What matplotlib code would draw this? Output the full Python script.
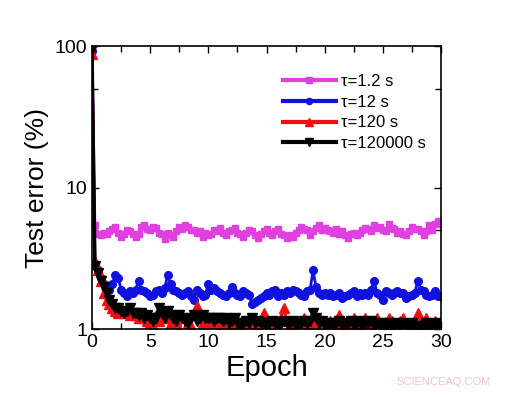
import numpy as np
import matplotlib
matplotlib.use("Agg")
import matplotlib.pyplot as plt
from matplotlib.ticker import FixedLocator, NullFormatter

plt.rcParams['font.family'] = ['Liberation Sans', 'DejaVu Sans']

epochs = [i * 0.25 for i in range(121)]

tau_1p2 = [95,
    5.4, 4.7, 4.6, 4.8, 4.7, 4.9, 5.1, 5.3, 4.8, 4.5, 4.7, 5.0, 4.9, 4.7, 4.5, 4.7, 5.3, 5.4, 5.1, 5.0,
    5.3, 5.2, 4.8, 4.7, 4.3, 4.8, 4.6, 4.5, 4.9, 5.3, 5.1, 5.4, 5.3, 5.0, 5.0, 4.8, 4.9, 4.5, 4.8, 4.6,
    4.7, 5.0, 4.9, 5.2, 4.8, 4.6, 4.9, 5.0, 5.2, 4.8, 4.7, 4.5, 4.8, 5.0, 4.9, 4.6, 4.4, 4.7, 4.9, 5.1,
    4.8, 4.6, 4.9, 5.1, 4.7, 4.6, 4.4, 4.6, 4.5, 4.8, 5.0, 5.3, 5.1, 5.0, 4.6, 4.9, 5.2, 5.4, 5.0, 5.2,
    5.0, 4.9, 4.8, 5.1, 4.7, 4.9, 4.6, 4.4, 4.7, 4.8, 4.6, 4.8, 5.0, 5.2, 5.1, 4.9, 5.4, 5.2, 5.3, 5.0,
    4.9, 5.5, 5.2, 5.1, 4.8, 4.9, 4.7, 4.6, 4.9, 5.3, 5.1, 5.1, 4.9, 4.6, 4.9, 5.4, 5.0, 5.5, 5.8, 5.5]

tau_12 = [92,
    2.8, 2.6, 2.3, 2.1, 2.0, 1.9, 2.1, 2.4, 2.3, 1.9, 1.8, 1.7, 1.85, 1.8, 1.9, 2.2, 1.9, 1.85, 1.8, 1.7,
    1.75, 1.85, 1.9, 1.8, 1.95, 2.4, 2.1, 1.9, 1.85, 1.8, 1.75, 1.8, 1.85, 1.7, 1.6, 1.9, 1.8, 1.7, 1.75, 2.1,
    1.9, 1.95, 1.85, 1.8, 1.75, 1.7, 1.8, 2.0, 1.8, 1.75, 1.7, 1.85, 1.8, 1.75, 1.5, 1.55, 1.6, 1.65, 1.7, 1.8,
    1.75, 1.85, 1.9, 1.7, 1.8, 1.75, 1.85, 1.8, 1.9, 1.85, 1.8, 1.75, 1.7, 1.85, 1.9, 2.6, 2.0, 1.8, 1.75, 1.8,
    1.75, 1.8, 1.7, 1.75, 1.8, 1.65, 1.7, 1.75, 1.8, 1.85, 1.7, 1.8, 1.75, 1.8, 1.75, 1.9, 2.2, 1.8, 1.75, 1.6,
    1.85, 1.8, 1.75, 1.8, 1.85, 1.8, 1.8, 1.65, 1.7, 1.75, 1.8, 2.2, 1.9, 1.85, 1.75, 1.7, 1.75, 1.85, 1.7, 1.7]

tau_120 = [88,
    3.0, 2.6, 2.2, 1.8, 1.6, 1.5, 1.4, 1.35, 1.3, 1.4, 1.3, 1.35, 1.25, 1.3, 1.25, 1.2, 1.3, 1.2, 1.15, 1.1,
    1.05, 1.25, 1.15, 1.2, 1.3, 1.2, 1.1, 1.2, 1.15, 1.0, 1.25, 1.2, 1.1, 1.05, 1.3, 1.45, 1.2, 1.1, 1.05, 1.15,
    1.1, 1.2, 1.15, 1.05, 1.1, 1.2, 1.1, 1.05, 1.0, 1.15, 1.1, 1.05, 1.1, 1.2, 1.1, 1.0, 1.05, 1.15, 1.3, 1.1,
    1.05, 1.1, 1.05, 1.15, 1.2, 1.4, 1.15, 1.05, 1.1, 1.0, 1.1, 1.15, 1.2, 1.05, 1.1, 1.15, 1.05, 1.2, 1.1, 1.05,
    1.1, 1.15, 1.05, 1.1, 1.25, 1.1, 1.0, 1.05, 1.1, 1.2, 1.15, 1.05, 1.1, 1.2, 1.1, 1.05, 1.15, 1.2, 1.1, 1.05,
    1.1, 1.2, 1.15, 1.05, 1.1, 1.15, 1.2, 1.1, 1.05, 1.1, 1.15, 1.3, 1.1, 1.05, 1.2, 1.1, 1.05, 1.15, 1.1, 1.05]

tau_120000 = [95,
    2.8, 2.5, 2.2, 2.0, 1.8, 1.6, 1.5, 1.4, 1.4, 1.35, 1.3, 1.35, 1.4, 1.3, 1.3, 1.25, 1.3, 1.2, 1.25, 1.2,
    1.15, 1.2, 1.4, 1.3, 1.2, 1.35, 1.25, 1.2, 1.15, 1.25, 1.2, 1.15, 1.1, 1.2, 1.25, 1.15, 1.2, 1.25, 1.2, 1.2,
    1.2, 1.15, 1.2, 1.2, 1.15, 1.2, 1.1, 1.15, 1.2, 1.1, 1.05, 1.1, 1.15, 1.1, 1.2, 1.1, 1.15, 1.1, 1.1, 1.05,
    1.1, 1.15, 1.1, 1.05, 1.1, 1.15, 1.1, 1.1, 1.15, 1.05, 1.1, 1.1, 1.15, 1.1, 1.15, 1.3, 1.2, 1.1, 1.15, 1.05,
    1.1, 1.1, 1.05, 1.1, 1.15, 1.05, 1.1, 1.1, 1.15, 1.05, 1.1, 1.15, 1.05, 1.1, 1.1, 1.15, 1.05, 1.1, 1.05, 1.1,
    1.05, 1.1, 1.05, 1.05, 1.1, 1.05, 1.1, 1.05, 1.05, 1.1, 1.05, 1.0, 1.05, 1.05, 1.1, 1.05, 1.05, 1.1, 1.05, 1.05]

labels = ["τ=1.2 s", "τ=12 s", "τ=120 s", "τ=120000 s"]
x_ticks = [0, 5, 10, 15, 20, 25, 30]
y_ticks = [1, 10, 100]
y_ticklabels = ["1", "10", "100"]

fig = plt.figure(figsize=(5.14, 3.97), dpi=100)
ax = fig.add_axes([0.179, 0.171, 0.679, 0.713])

ax.plot(epochs, tau_1p2, color='#e040e0', lw=2, marker='s', ms=5, label=labels[0])
ax.plot(epochs, tau_12, color='#1010e0', lw=2, marker='o', ms=5.5, label=labels[1])
ax.plot(epochs, tau_120, color='#ee1010', lw=2, marker='^', ms=6.5, label=labels[2])
ax.plot(epochs, tau_120000, color='black', lw=2.5, marker='v', ms=6.5, label=labels[3])

ax.set_yscale('log')
ax.set_xlim(0, 30)
ax.set_ylim(1, 100)
ax.set_xticks(x_ticks)
ax.set_xticklabels([str(t) for t in x_ticks])
ax.xaxis.set_minor_locator(FixedLocator([2.5, 7.5, 12.5, 17.5, 22.5, 27.5]))
ax.set_yticks(y_ticks)
ax.set_yticklabels(y_ticklabels)
ax.yaxis.set_minor_locator(FixedLocator([5, 50]))
ax.yaxis.set_minor_formatter(NullFormatter())
ax.tick_params(which='both', direction='in', top=True, right=True, labelsize=14, width=1)
ax.tick_params(which='major', length=5)
ax.tick_params(which='minor', length=4)
for s in ax.spines.values():
    s.set_linewidth(1.2)

ax.set_xlabel('Epoch', fontsize=21, labelpad=2)
ax.set_ylabel('Test error (%)', fontsize=19, labelpad=4)

leg = ax.legend(loc='upper right', bbox_to_anchor=(1.0, 0.955), frameon=False, fontsize=12,
                handlelength=3.2, handletextpad=0.3, labelspacing=0.35, markerscale=0.8)
for h in leg.legend_handles:
    h.set_markevery([1])
    h.set_linewidth(3)

fig.text(0.955, 0.025, 'SCIENCEAQ.COM', color='#f4c4cc', fontsize=8, ha='right', va='bottom')

fig.savefig('out.png', dpi=100)
